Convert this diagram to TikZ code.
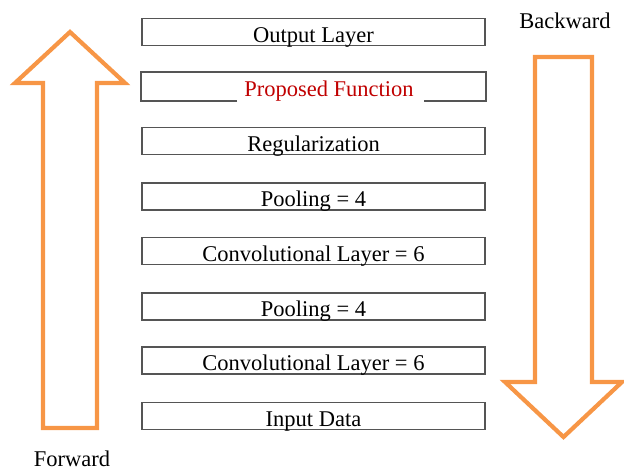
\documentclass[tikz,border=0pt]{standalone}
\usepackage{fontspec}
\setmainfont{Liberation Serif}
\usetikzlibrary{calc}
\definecolor{arroworange}{RGB}{247,150,70}
\definecolor{boxgray}{RGB}{85,85,85}
\definecolor{pfred}{RGB}{192,0,0}
\tikzset{
  layerbox/.style={draw=boxgray, line width=1.8pt, minimum width=343pt,
    minimum height=27pt, inner sep=0pt, text height=23pt, text depth=3pt,
    font=\fontsize{22.5}{24}\selectfont},
  bigarrow/.style={draw=arroworange, line width=4.2pt, miter limit=10},
  sidelabel/.style={font=\fontsize{22.5}{24}\selectfont, inner sep=0pt}
}
\begin{document}
\begin{tikzpicture}[x=1pt, y=-1pt]
  \useasboundingbox (0,0) rectangle (624,472);

  % network layers, top to bottom
  \node[layerbox] (out)   at (313.5, 32)    {Output Layer};
  \node[layerbox, draw=none] (pf) at (313.5, 86.5) {};
  \node[layerbox] (reg)   at (313.5, 141)   {Regularization};
  \node[layerbox] (pool2) at (313.5, 196.5) {Pooling = 4};
  \node[layerbox] (conv2) at (313.5, 251)   {Convolutional Layer = 6};
  \node[layerbox] (pool1) at (313.5, 306.5) {Pooling = 4};
  \node[layerbox] (conv1) at (313.5, 360.5) {Convolutional Layer = 6};
  \node[layerbox] (inp)   at (313.5, 416)   {Input Data};

  % proposed-function layer: label set a little right of centre,
  % frame left open beneath it
  \node[layerbox, draw=none, minimum width=0pt, text=pfred] (pftext)
    at (329, 86.5) {Proposed Function};
  \draw[draw=boxgray, line width=1.8pt]
    ($(pf.south west)+(96,0)$) -- (pf.south west) -- (pf.north west)
    -- (pf.north east) -- (pf.south east) -- ($(pf.south east)+(-62,0)$);

  % forward pass arrow (up)
  \draw[bigarrow] (70,32) -- (125,83) -- (97,83) -- (97,428) -- (43,428)
    -- (43,83) -- (15,83) -- cycle;
  \node[sidelabel] (fwd) at (72,459) {Forward};

  % backward pass arrow (down)
  \draw[bigarrow] (535,57) -- (592,57) -- (592,382) -- (622,382)
    -- (563.5,437) -- (505,382) -- (535,382) -- cycle;
  \node[sidelabel] (bwd) at (565,21) {Backward};
\end{tikzpicture}
\end{document}
